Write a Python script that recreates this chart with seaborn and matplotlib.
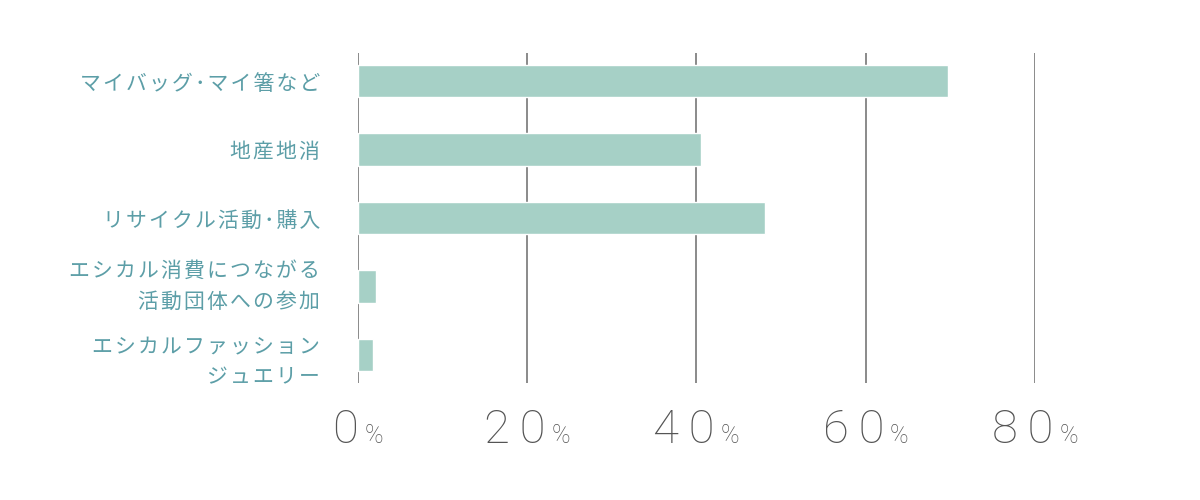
import matplotlib
matplotlib.use("Agg")
import matplotlib.pyplot as plt
import matplotlib.transforms as mtransforms
import seaborn as sns
import pandas as pd

categories = ["マイバッグ･マイ箸など", "地産地消", "リサイクル活動･購入",
              "エシカル消費につながる\n活動団体への参加", "エシカルファッション\nジュエリー"]
values = [69.7, 40.6, 48.1, 2.2, 1.8]
ticks = [0, 20, 40, 60, 80]

sns.set_style("white")
plt.rcParams["font.family"] = ["Noto Sans CJK JP", "DejaVu Sans"]


def spaced(s, sep="\u200a"):
    return "\n".join(sep.join(line) for line in s.split("\n"))


df = pd.DataFrame({"category": [spaced(c) for c in categories], "value": values})

fig = plt.figure(figsize=(12, 5), dpi=100)
ax = fig.add_axes([0.298, 0.234, 0.5645, 0.66])
sns.barplot(data=df, x="value", y="category", color="#a6d0c6", width=0.47,
            saturation=1, ax=ax, zorder=2)
ax.set_xlim(0, 80)
ax.set_ylim(4.41, -0.41)
for t in ticks:
    ax.axvline(t, color="#8a8a8a", lw=1.4, zorder=1)
for s in ax.spines.values():
    s.set_visible(False)
ax.set_xlabel("")
ax.set_ylabel("")
ax.set_xticks(ticks)
ax.set_xticklabels([])
ax.tick_params(axis="both", length=0)
ax.tick_params(axis="y", pad=27)
for i, lab in enumerate(ax.get_yticklabels()):
    lab.set_color("#5c9ea7")
    lab.set_fontsize(15)
    lab.set_linespacing(1.5)
    lab.set_ha("right")
    if i == 3:
        lab.set_transform(lab.get_transform() +
                          mtransforms.ScaledTranslation(0, 0.07, fig.dpi_scale_trans))

# x tick labels: large digits + small "%", centred together under each grid line
trans = mtransforms.blended_transform_factory(ax.transData, ax.transAxes)
renderer = fig.canvas.get_renderer()
num_style = dict(color="#555555", fontweight="light", family=["Roboto", "DejaVu Sans"],
                 textcoords="offset pixels", va="baseline", ha="left")
for t in ticks:
    d = ax.annotate(spaced(str(t), "\u200a\u200a"), xy=(t, 0), xycoords=trans,
                    xytext=(0, -60), fontsize=34, **num_style)
    p = ax.annotate("%", xy=(t, 0), xycoords=trans, xytext=(0, -60),
                    fontsize=18, **num_style)
    wd = d.get_window_extent(renderer).width
    wp = p.get_window_extent(renderer).width
    gap = 6
    left = -(wd + gap + wp) / 2
    d.set_position((left, -60))
    p.set_position((left + wd + gap, -60))

fig.savefig("out.png", dpi=100, facecolor="white")
